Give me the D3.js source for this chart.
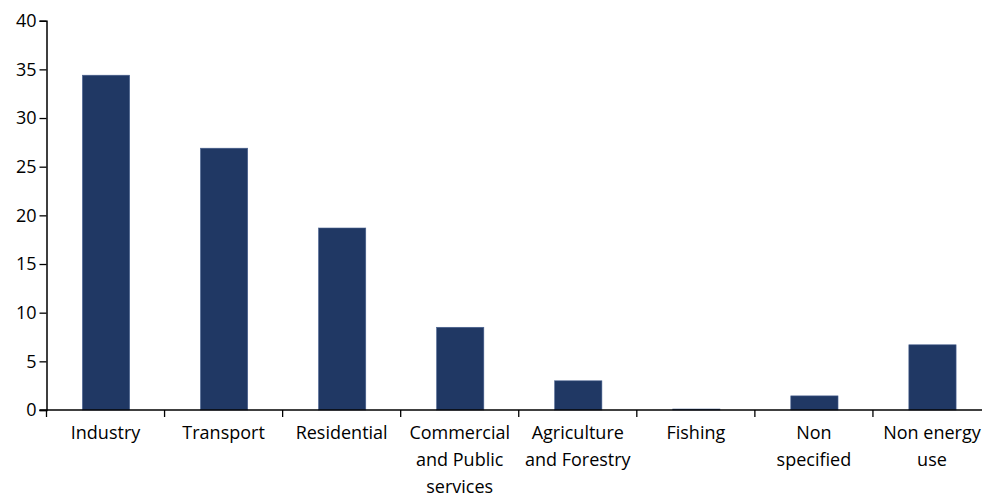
<!DOCTYPE html>
<html><head><meta charset="utf-8">
<script src="https://cdn.jsdelivr.net/npm/d3@7"></script>
<style>body{margin:0;background:#fff;} svg{display:block;}</style>
</head><body>
<svg id="chart" width="982" height="495"></svg>
<script>
const categories = ["Industry", "Transport", "Residential", "Commercial and Public services", "Agriculture and Forestry", "Fishing", "Non specified", "Non energy use"];
const categoryLines = [["Industry"], ["Transport"], ["Residential"], ["Commercial", "and Public", "services"], ["Agriculture", "and Forestry"], ["Fishing"], ["Non", "specified"], ["Non energy", "use"]];
const values = [34.4, 26.9, 18.7, 8.5, 3.0, 0.1, 1.45, 6.7];
const yTicks = [0, 5, 10, 15, 20, 25, 30, 35, 40];

const svg = d3.select("#chart");
const x0 = 46.5, x1 = 991, yTop = 20.7, yBot = 410;
const x = d3.scaleBand().domain(categories).range([x0, x1]).padding(0);
const y = d3.scaleLinear().domain([0, 40]).range([yBot, yTop]);
const font = "'Open Sans', sans-serif";

// bars
const bw = x.bandwidth() * 0.4;
svg.append("g").selectAll("rect").data(categories).join("rect")
  .attr("x", d => x(d) + x.bandwidth() / 2 - bw / 2 + 0.5)
  .attr("y", (d, i) => y(values[i]))
  .attr("width", bw)
  .attr("height", (d, i) => yBot - y(values[i]))
  .attr("fill", "#203864")
  .attr("stroke", "#4a6290").attr("stroke-width", 0.6);

// y axis
const yAxis = svg.append("g").attr("transform", `translate(${x0},0)`)
  .call(d3.axisLeft(y).tickValues(yTicks).tickSize(7).tickPadding(3));
yAxis.select(".domain").attr("stroke", "#000").attr("stroke-width", 1.5);
yAxis.selectAll(".tick line").attr("stroke", "#000").attr("stroke-width", 1.3);
yAxis.selectAll(".tick text").attr("font-family", font).attr("font-size", 18).attr("fill", "#000");

// x axis
const xAxisG = svg.append("g").attr("transform", `translate(0,${yBot})`);
xAxisG.append("line").attr("x1", x0 - 7).attr("x2", x1).attr("y1", 0).attr("y2", 0)
  .attr("stroke", "#000").attr("stroke-width", 1.5);
xAxisG.selectAll("line.tk").data(categories).join("line").attr("class", "tk")
  .attr("x1", d => x(d)).attr("x2", d => x(d)).attr("y1", 0).attr("y2", 7)
  .attr("stroke", "#000").attr("stroke-width", 1.3);
const lbl = xAxisG.selectAll("text.lbl").data(categories).join("text").attr("class", "lbl")
  .attr("x", d => x(d) + x.bandwidth() / 2)
  .attr("text-anchor", "middle")
  .attr("font-family", font).attr("font-size", 18).attr("fill", "#000");
lbl.each(function(d, i) {
  const t = d3.select(this);
  categoryLines[i].forEach((line, j) => {
    t.append("tspan").attr("x", x(d) + x.bandwidth() / 2).attr("y", 29 + j * 27).text(line);
  });
});
</script>
</body></html>
